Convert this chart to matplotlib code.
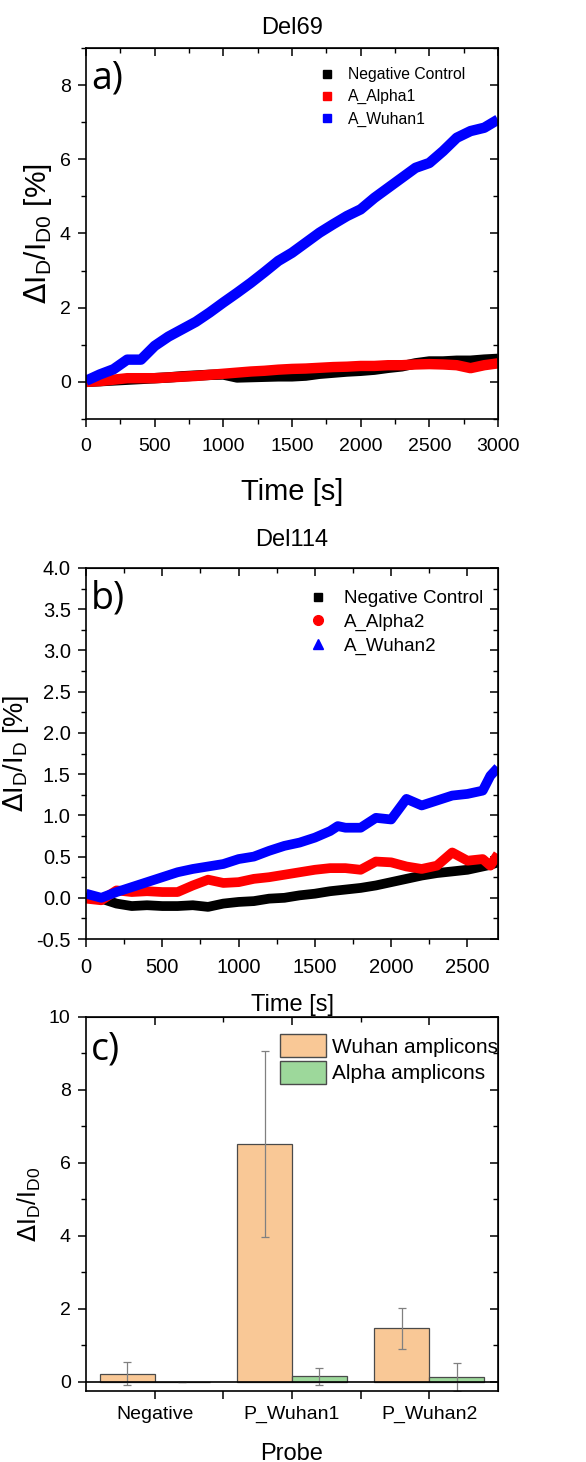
import matplotlib
matplotlib.use("Agg")
import matplotlib.pyplot as plt
from matplotlib.lines import Line2D
from matplotlib.patches import Patch
from matplotlib.ticker import MultipleLocator, FormatStrFormatter
import numpy as np

plt.rcParams['font.family'] = ['Liberation Sans', 'DejaVu Sans']

# ---- panel a : Del69 ----
t_a = list(range(0, 3001, 100))
neg_a = [0, 0.02, 0.04, 0.06, 0.08, 0.1, 0.12, 0.15, 0.17, 0.19, 0.2, 0.12, 0.13,
         0.14, 0.15, 0.15, 0.17, 0.22, 0.25, 0.28, 0.3, 0.33, 0.38, 0.42, 0.5, 0.55,
         0.55, 0.57, 0.57, 0.6, 0.62]
alpha1 = [0, 0.02, 0.06, 0.1, 0.1, 0.1, 0.12, 0.14, 0.16, 0.19, 0.22, 0.25, 0.28,
          0.3, 0.33, 0.35, 0.36, 0.38, 0.4, 0.41, 0.43, 0.43, 0.45, 0.45, 0.47, 0.48,
          0.47, 0.45, 0.37, 0.45, 0.5]
wuhan1 = [0.03, 0.2, 0.34, 0.6, 0.6, 0.97, 1.22, 1.42, 1.62, 1.87, 2.14, 2.4, 2.67,
          2.96, 3.26, 3.48, 3.75, 4.02, 4.25, 4.47, 4.65, 4.96, 5.23, 5.5, 5.77, 5.9,
          6.22, 6.58, 6.76, 6.85, 7.07]

# ---- panel b : Del114 ----
t_b = [0, 100, 200, 300, 400, 500, 600, 700, 800, 900, 1000, 1100, 1200, 1300, 1400,
       1500, 1600, 1650, 1700, 1800, 1900, 2000, 2100, 2200, 2300, 2400, 2500, 2600,
       2650, 2700]
neg_b = [0, -0.01, -0.07, -0.1, -0.09, -0.1, -0.1, -0.09, -0.11, -0.07, -0.05, -0.04,
         -0.01, 0, 0.03, 0.05, 0.08, 0.09, 0.1, 0.12, 0.15, 0.19, 0.23, 0.27, 0.3,
         0.32, 0.34, 0.38, 0.4, 0.43]
alpha2 = [-0.01, -0.03, 0.09, 0.07, 0.08, 0.07, 0.07, 0.15, 0.22, 0.18, 0.19, 0.23,
          0.25, 0.28, 0.31, 0.34, 0.36, 0.36, 0.36, 0.34, 0.44, 0.43, 0.38, 0.35, 0.39,
          0.55, 0.45, 0.47, 0.39, 0.53]
wuhan2 = [0.05, 0.0, 0.07, 0.13, 0.19, 0.25, 0.31, 0.35, 0.38, 0.41, 0.47, 0.5, 0.57,
          0.63, 0.67, 0.73, 0.81, 0.87, 0.85, 0.85, 0.97, 0.95, 1.2, 1.12, 1.18, 1.24,
          1.26, 1.3, 1.48, 1.58]

# ---- panel c : bars ----
probes = ['Negative', 'P_Wuhan1', 'P_Wuhan2']
wuhan_amp = [0.22, 6.52, 1.47]
wuhan_err = [0.32, 2.56, 0.56]
alpha_amp = [0.0, 0.15, 0.14]
alpha_err = [0.0, 0.24, 0.38]

fig = plt.figure(figsize=(5.86, 14.62), dpi=100)


def style_axes(ax):
    for s in ax.spines.values():
        s.set_linewidth(1.2)
    ax.tick_params(which='major', direction='out', length=6, width=1.1, labelsize=14,
                   pad=5)
    ax.tick_params(which='minor', direction='out', length=3.5, width=1.0)
    top = ax.secondary_xaxis('top')
    top.set_xticks(ax.get_xticks(), labels=[])
    top.xaxis.set_minor_locator(ax.xaxis.get_minor_locator())
    top.tick_params(which='major', direction='in', length=6, width=1.1)
    top.tick_params(which='minor', direction='in', length=3.5, width=1.0)
    right = ax.secondary_yaxis('right')
    right.set_yticks(ax.get_yticks(), labels=[])
    right.yaxis.set_minor_locator(ax.yaxis.get_minor_locator())
    right.tick_params(which='major', direction='in', length=6, width=1.1)
    right.tick_params(which='minor', direction='in', length=3.5, width=1.0)


# a)
ax1 = fig.add_axes([0.1468, 0.7134, 0.703, 0.2538])
ax1.plot(t_a, neg_a, color='black', lw=7.5, solid_capstyle='butt')
ax1.plot(t_a, alpha1, color='#ff0000', lw=7.5, solid_capstyle='butt')
ax1.plot(t_a, wuhan1, color='#0000ff', lw=7.5, solid_capstyle='butt')
ax1.set_xlim(0, 3000)
ax1.set_ylim(-1, 9)
ax1.set_xticks([0, 500, 1000, 1500, 2000, 2500, 3000])
ax1.set_yticks([0, 2, 4, 6, 8])
ax1.xaxis.set_minor_locator(MultipleLocator(250))
ax1.yaxis.set_minor_locator(MultipleLocator(1))
style_axes(ax1)
ax1.tick_params(axis='x', pad=8)
ax1.set_title('Del69', fontsize=17, pad=10)
ax1.set_xlabel('Time [s]', fontsize=21, labelpad=16)
ax1.set_ylabel(r'$\Delta$I$_\mathregular{D}$/I$_\mathregular{D0}$ [%]', fontsize=21.5)
ax1.text(0.012, 0.97, 'a)', transform=ax1.transAxes, fontsize=27, va='top',
         family='Open Sans')
h1 = [Line2D([], [], color=c, marker='s', ls='none', markersize=6)
      for c in ['black', '#ff0000', '#0000ff']]
ax1.legend(h1, ['Negative Control', 'A_Alpha1', 'A_Wuhan1'], loc='upper right',
           frameon=False, fontsize=11.3, bbox_to_anchor=(0.955, 0.986),
           handlelength=1.0, handletextpad=0.85, labelspacing=0.45)

# b)
ax2 = fig.add_axes([0.1468, 0.3577, 0.703, 0.2538])
ax2.plot(t_b, neg_b, color='black', lw=7, solid_capstyle='butt')
ax2.plot(t_b, alpha2, color='#ff0000', lw=7, solid_capstyle='butt')
ax2.plot(t_b, wuhan2, color='#0000ff', lw=7, solid_capstyle='butt')
ax2.set_xlim(0, 2700)
ax2.set_ylim(-0.5, 4.0)
ax2.set_xticks([0, 500, 1000, 1500, 2000, 2500])
ax2.set_yticks(np.arange(-0.5, 4.01, 0.5))
ax2.yaxis.set_major_formatter(FormatStrFormatter('%.1f'))
ax2.xaxis.set_minor_locator(MultipleLocator(250))
ax2.yaxis.set_minor_locator(MultipleLocator(0.25))
style_axes(ax2)
ax2.tick_params(labelsize=14.5)
ax2.tick_params(axis='x', pad=8)
ax2.set_title('Del114', fontsize=17, pad=15.5)
ax2.set_xlabel('Time [s]', fontsize=17, labelpad=12)
ax2.set_ylabel(r'$\Delta$I$_\mathregular{D}$/I$_\mathregular{D}$ [%]', fontsize=19.5)
ax2.text(0.012, 0.97, 'b)', transform=ax2.transAxes, fontsize=27, va='top',
         family='Open Sans')
h2 = [Line2D([], [], color='black', marker='s', ls='none', markersize=6),
      Line2D([], [], color='#ff0000', marker='o', ls='none', markersize=7),
      Line2D([], [], color='#0000ff', marker='^', ls='none', markersize=7)]
ax2.legend(h2, ['Negative Control', 'A_Alpha2', 'A_Wuhan2'], loc='upper right',
           frameon=False, fontsize=13.5, bbox_to_anchor=(1.005, 0.986),
           handlelength=1.0, handletextpad=0.9, labelspacing=0.35)

# c)
ax3 = fig.add_axes([0.1468, 0.0486, 0.703, 0.2558])
x = np.arange(1, len(probes) + 1)
ax3.bar(x - 0.2, wuhan_amp, width=0.4, color='#f9c896', edgecolor='#4a4a4a', lw=0.9,
        yerr=wuhan_err, ecolor='#808080', capsize=3,
        error_kw={'elinewidth': 0.9, 'capthick': 0.9})
ax3.bar(x + 0.2, alpha_amp, width=0.4, color='#9dd89b', edgecolor='#4a4a4a', lw=0.9,
        yerr=alpha_err, ecolor='#808080', capsize=3,
        error_kw={'elinewidth': 0.9, 'capthick': 0.9})
ax3.axhline(0, color='black', lw=1.2)
ax3.set_xlim(0.5, 3.5)
ax3.set_ylim(-0.25, 10)
ax3.set_xticks(x, probes)
ax3.set_xticks([1.5, 2.5], minor=True)
ax3.set_yticks([0, 2, 4, 6, 8, 10])
ax3.yaxis.set_minor_locator(MultipleLocator(1))
style_axes(ax3)
ax3.tick_params(axis='x', which='minor', length=6, width=1.1)
ax3.set_xlabel('Probe', fontsize=17, labelpad=14)
ax3.set_ylabel(r'$\Delta$I$_\mathregular{D}$/I$_\mathregular{D0}$', fontsize=18)
ax3.text(0.012, 0.965, 'c)', transform=ax3.transAxes, fontsize=27, va='top',
         family='Open Sans')
h3 = [Patch(facecolor='#f9c896', edgecolor='#4a4a4a'),
      Patch(facecolor='#9dd89b', edgecolor='#4a4a4a')]
ax3.legend(h3, ['Wuhan amplicons', 'Alpha amplicons'], loc='upper right',
           frameon=False, fontsize=15, bbox_to_anchor=(1.046, 1.004),
           handlelength=2.2, handleheight=1.3, handletextpad=0.3, labelspacing=0.2)

fig.savefig('out.png', dpi=100)
